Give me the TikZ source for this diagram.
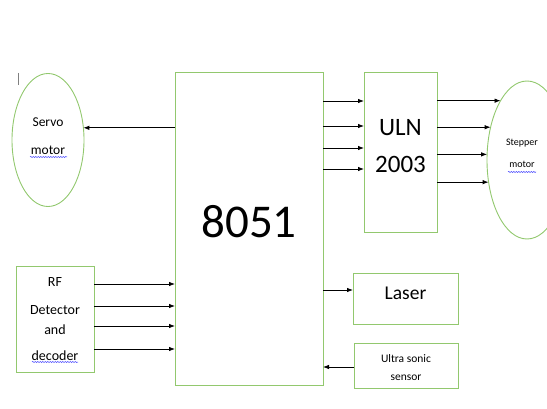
\documentclass[tikz,border=0pt]{standalone}
\usepackage{fontspec}
\setmainfont{Carlito}
\usetikzlibrary{arrows.meta,shapes.geometric,decorations.pathmorphing}
\definecolor{boxgreen}{RGB}{146,200,110}
\newcommand{\setfs}[2]{\fontsize{#1}{#2}\selectfont}
\tikzset{
  blk/.style={draw=boxgreen,line width=0.9pt,rectangle,inner sep=0pt,outer sep=0pt,align=center},
  oval/.style={draw=boxgreen,line width=0.9pt,ellipse,inner sep=0pt,outer sep=0pt,align=center},
  arr/.style={draw=black,line width=0.8pt,-{Latex[length=6pt,width=4.5pt]}},
  squig/.style={draw=blue!75,line width=0.5pt,decorate,decoration={snake,amplitude=0.6pt,segment length=2.5pt}}
}

\begin{document}
\begin{tikzpicture}[x=1pt,y=-1pt]
\useasboundingbox (0,0) rectangle (547,409);
% blocks
\node[blk,minimum width=148pt,minimum height=313pt,
  label={[font=\setfs{47}{50},yshift=7pt]center:8051}] (mcu) at (249,228.5) {};
\node[oval,minimum width=72pt,minimum height=133pt,
  label={[align=center,font=\setfs{13.5}{16},yshift=4pt]center:Servo\\[12pt]motor}] (srv) at (48,140) {};
\node[blk,minimum width=73pt,minimum height=160pt,
  label={[align=center,font=\setfs{25}{30},yshift=6pt]center:ULN\\[7pt]2003}] (uln) at (400.5,152) {};
\node[oval,minimum width=80pt,minimum height=158pt,
  label={[align=center,font=\setfs{10}{12},yshift=7pt,xshift=-5pt]center:Stepper\\[10pt]motor}] (stp) at (527,160) {};
\node[blk,minimum width=78pt,minimum height=106pt,font=\setfs{14}{17}] (rf) at (55,319) {RF\\[11pt]Detector\\[3pt]and\\[9pt]decoder};
\node[blk,minimum width=105pt,minimum height=51pt,
  label={[font=\setfs{19.5}{22},yshift=5pt]center:Laser}] (lsr) at (405.5,298.5) {};
\node[blk,minimum width=104pt,minimum height=45pt,
  label={[align=center,font=\setfs{11.5}{14},yshift=-2pt]center:Ultra sonic\\[4pt]sensor}] (us) at (406,365.5) {};
% connectors
\draw[arr] (mcu.west |- srv.19) -- (srv.19);
\foreach \yy in {101,126,148,169}
  \draw[arr] (mcu.east |- 0,\yy) -- (uln.west |- 0,\yy);
\foreach \ang in {114,138,172,210}
  \draw[arr] (uln.east |- stp.\ang) -- (stp.\ang);
\foreach \yy in {284,306,326,349}
  \draw[arr] (rf.east |- 0,\yy) -- (mcu.west |- 0,\yy);
\draw[arr] (mcu.east |- 0,290) -- (lsr.west |- 0,290);
\draw[arr] (us.west |- 0,367) -- (mcu.east |- 0,367);
% spell marks and cursor
\draw[squig] (30,157) -- (67,157);
\draw[squig] (508,172) -- (536,172);
\draw[squig] (32,362) -- (78,362);
\draw[gray,line width=1pt] (18,73) -- (18,85);
\end{tikzpicture}
\end{document}
